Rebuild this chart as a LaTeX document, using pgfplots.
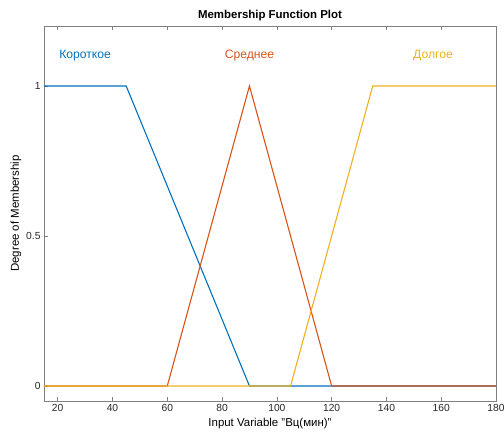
\documentclass[border=0pt]{standalone}
\usepackage{pgfplots}
\pgfplotsset{compat=1.18}
\usepackage{fontspec}
\setmainfont{Liberation Sans}
\definecolor{mblue}{rgb}{0,0.447,0.741}
\definecolor{mred}{rgb}{0.85,0.325,0.098}
\definecolor{myel}{rgb}{0.929,0.694,0.125}
\definecolor{axgray}{rgb}{0.5,0.5,0.5}
\begin{document}
\begin{tikzpicture}[x=1bp,y=1bp]
\begin{axis}[
  at={(0,0)}, anchor=south west,
  scale only axis,
  width=452bp, height=375bp,
  xmin=15, xmax=180, ymin=-0.05, ymax=1.2,
  xtick={20,40,...,180},
  ytick={0,0.5,1},
  yticklabels={0,0.5,1},
  tick align=inside,
  xtick pos=both,
  ytick pos=left,
  major tick length=4bp,
  axis line style={axgray},
  every tick/.style={axgray},
  tick label style={font=\fontsize{10.3}{12}\selectfont, text=black!85},
  /pgf/number format/assume math mode=true,
  xlabel={Input Variable "Вц(мин)"},
  ylabel={Degree of Membership},
  label style={font=\fontsize{11.5}{13}\selectfont},
  xlabel style={yshift=0bp},
  ylabel style={yshift=-2bp},
  title={\textbf{Membership Function Plot}},
  title style={font=\fontsize{11.5}{13}\selectfont, yshift=-4bp},
  clip=false,
]
\addplot[mblue, line width=1.1bp] coordinates {(15,1) (45,1) (90,0) (180,0)};
\addplot[mred, line width=1.1bp] coordinates {(15,0) (60,0) (90,1) (120,0) (180,0)};
\addplot[myel, line width=1.1bp] coordinates {(15,0) (105,0) (135,1) (180,1)};
\node[mblue, font=\fontsize{12.2}{14}\selectfont] at (axis cs:30,1.1) {Короткое};
\node[mred, font=\fontsize{12.2}{14}\selectfont] at (axis cs:90,1.1) {Среднее};
\node[myel, font=\fontsize{12.2}{14}\selectfont] at (axis cs:157,1.1) {Долгое};
\end{axis}
\pgfresetboundingbox
\path[use as bounding box] (-44,-31) rectangle (460,401);
\end{tikzpicture}
\end{document}
